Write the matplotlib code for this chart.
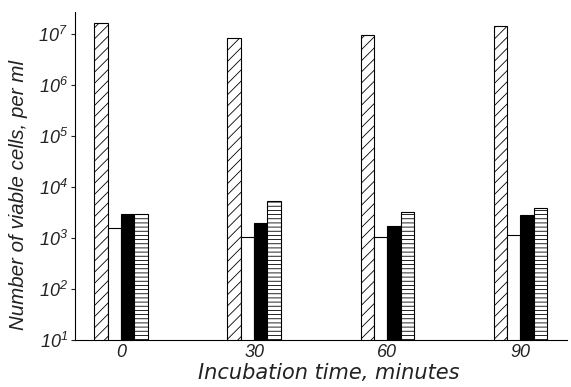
import matplotlib
matplotlib.use("Agg")
import matplotlib.pyplot as plt
from matplotlib.ticker import FixedLocator, FuncFormatter, NullLocator
import numpy as np

# incubation times (minutes)
times = [0, 30, 60, 90]
# viable cells per ml
diag_hatch = [1.6e7, 8.3e6, 9.5e6, 1.4e7]
white_bar = [1.6e3, 1.05e3, 1.05e3, 1.15e3]
black_bar = [3.0e3, 2.0e3, 1.7e3, 2.8e3]
horiz_hatch = [3.0e3, 5.3e3, 3.2e3, 3.9e3]

plt.rcParams['hatch.linewidth'] = 0.6
plt.rcParams['font.family'] = ['Liberation Sans', 'DejaVu Sans']
plt.rcParams['mathtext.fontset'] = 'custom'
plt.rcParams['mathtext.rm'] = 'Liberation Sans:italic'
plt.rcParams['mathtext.it'] = 'Liberation Sans:italic'

fig = plt.figure(figsize=(5.71, 3.87), dpi=100)
ax = fig.add_axes([0.131, 0.1214, 0.862, 0.848])
ax.set_yscale('log')

x = np.array(times, dtype=float)
w = 3.0
kw = dict(width=w, bottom=1, edgecolor='black', linewidth=0.8)
ax.bar(x - 1.5 * w, diag_hatch, color='white', hatch='///', **kw)
ax.bar(x - 0.5 * w, white_bar, color='white', **kw)
ax.bar(x + 0.5 * w, black_bar, color='black', **kw)
ax.bar(x + 1.5 * w, horiz_hatch, color='white', hatch='----', **kw)

ax.set_xlim(-10.4, 100.5)
ax.set_ylim(10, 10 ** 7.43)

for s in ['top', 'right']:
    ax.spines[s].set_visible(False)
for s in ['left', 'bottom']:
    ax.spines[s].set_linewidth(0.8)

ax.yaxis.set_major_locator(FixedLocator([10 ** k for k in range(1, 8)]))
ax.yaxis.set_minor_locator(NullLocator())
ax.yaxis.set_major_formatter(FuncFormatter(
    lambda v, p: r'$10^{%d}$' % round(np.log10(v))))
ax.tick_params(axis='y', length=3, width=0.8, labelsize=13, pad=2, colors='#222222')

ax.set_xticks(times)
ax.set_xticklabels([str(t) for t in times], fontstyle='italic', fontsize=13)
ax.tick_params(axis='x', length=0, pad=3, colors='#222222')

ax.set_ylabel('Number of viable cells, per ml', fontstyle='italic',
              fontsize=14.8, color='#222222')
ax.yaxis.set_label_coords(-0.0955, 0.442)
ax.set_xlabel('Incubation time, minutes', fontstyle='italic',
              family=['DejaVu Sans'], fontsize=15, color='#222222')
ax.xaxis.set_label_coords(0.516, -0.07)

fig.savefig('out.png', dpi=100)
